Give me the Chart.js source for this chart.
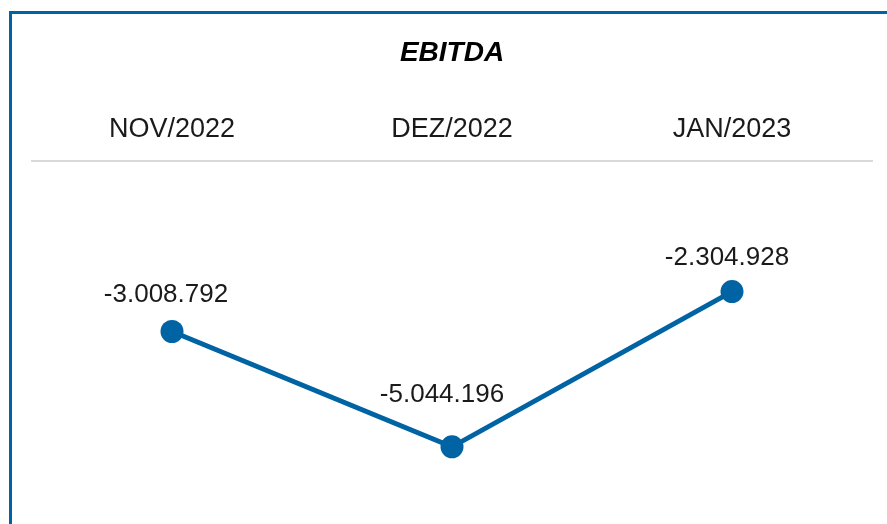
<!DOCTYPE html>
<html>
<head>
<meta charset="utf-8">
<script src="https://cdn.jsdelivr.net/npm/chart.js@4/dist/chart.umd.min.js"></script>
<style>
  html, body { margin: 0; padding: 0; background: #fff; }
  #wrap { position: relative; width: 887px; height: 524px; }
  #frame {
    position: absolute; left: 9px; top: 11px; right: 0; bottom: 0;
    border-left: 3px solid #0063a3; border-top: 3px solid #0063a3;
    pointer-events: none;
  }
</style>
</head>
<body>
<div id="wrap">
  <canvas id="ebitda" width="887" height="524"></canvas>
  <div id="frame"></div>
</div>
<script>
"use strict";

/* data */
var months = ["NOV/2022", "DEZ/2022", "JAN/2023"];
var ebitda = [-3008792, -5044196, -2304928];
var yRange = [-6000000, 0];

var blue = "#0063a3";

function fmtBR(v) {
    var s = Math.abs(Math.round(v)).toString().replace(/\B(?=(\d{3})+(?!\d))/g, ".");
    return (v < 0 ? "-" : "") + s;
}

/* value labels above the points */
var valueLabels = {
    id: "valueLabels",
    afterDatasetsDraw: function (chart) {
        var ctx = chart.ctx;
        var meta = chart.getDatasetMeta(0);
        var shiftX = [-6, -10, -5];
        var shiftY = [37, 52, 34];
        ctx.save();
        ctx.font = "26px 'Liberation Sans', Arial, sans-serif";
        ctx.fillStyle = "#1a1a1a";
        ctx.textAlign = "center";
        ctx.textBaseline = "middle";
        meta.data.forEach(function (pt, i) {
            ctx.fillText(fmtBR(chart.data.datasets[0].data[i]), pt.x + shiftX[i], pt.y - shiftY[i]);
        });
        ctx.restore();
    }
};

var myCanvas = document.getElementById("ebitda");
var myChart = new Chart(myCanvas, {
    type: "line",
    data: {
        labels: months,
        datasets: [
            {
                data: ebitda,
                borderColor: blue,
                backgroundColor: blue,
                borderWidth: 5,
                pointRadius: 11.5,
                pointHoverRadius: 11.5,
                pointBorderWidth: 0,
                tension: 0,
                fill: false,
            },
        ],
    },
    options: {
        responsive: false,
        animation: false,
        layout: {
            padding: { left: 32, right: 15, top: 14, bottom: 23 },
        },
        plugins: {
            legend: { display: false },
            tooltip: { enabled: false },
            title: {
                display: true,
                text: "EBITDA",
                color: "#000",
                font: { family: "'Liberation Sans', Arial, sans-serif", size: 28, weight: "bold", style: "italic" },
                padding: { top: 22, bottom: 29 },
            },
        },
        scales: {
            x: {
                position: "top",
                offset: true,
                grid: { display: false, drawTicks: false },
                border: { display: true, color: "#d9d9d9", width: 2 },
                ticks: {
                    color: "#1a1a1a",
                    padding: 15,
                    font: { family: "'Liberation Sans', Arial, sans-serif", size: 27 },
                },
            },
            y: {
                display: false,
                min: yRange[0],
                max: yRange[1],
            },
        },
    },
    plugins: [valueLabels],
});
</script>
</body>
</html>
